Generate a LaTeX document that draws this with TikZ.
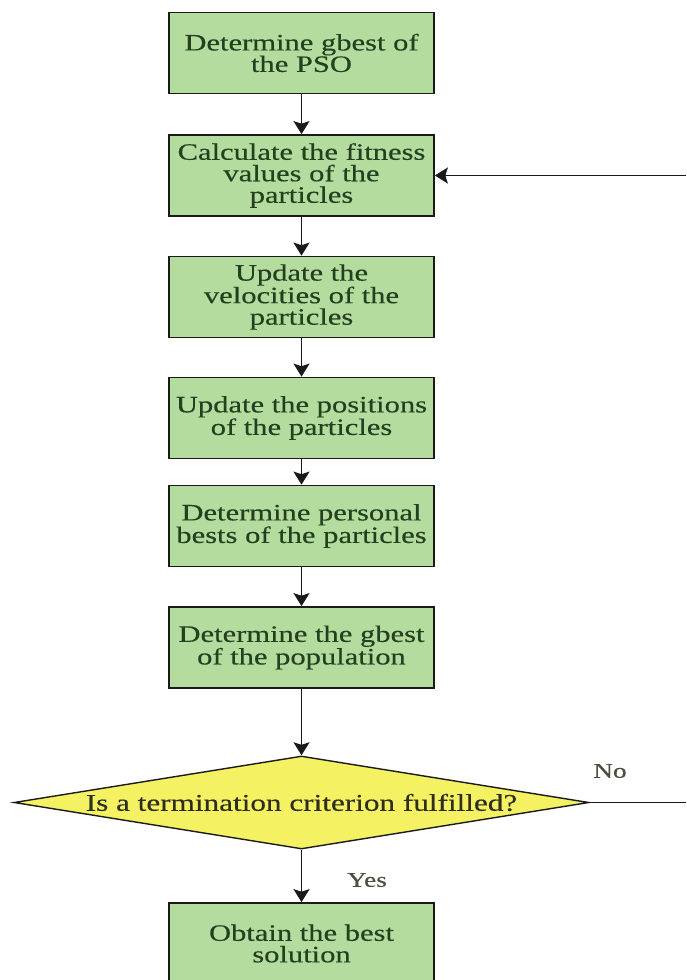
\documentclass[tikz,border=0pt]{standalone}
\usepackage{fontspec}
\setmainfont{Liberation Serif}[FakeStretch=1.3, FakeBold=0.3]
\usetikzlibrary{arrows.meta,shapes.geometric}

\definecolor{boxfill}{HTML}{B5DC9F}
\definecolor{boxtext}{HTML}{23401F}
\definecolor{decfill}{HTML}{F4F163}
\definecolor{dectext}{HTML}{2E2E1E}
\definecolor{edge}{HTML}{1A1A1A}

\tikzset{
  stepbox/.style={draw=edge, line width=1.7pt, fill=boxfill, text=boxtext,
    minimum width=265pt, minimum height=81pt, inner sep=0pt, align=center,
    font=\fontsize{23.5}{21.5}\selectfont},
  decision/.style={draw=edge, line width=1.4pt, fill=decfill, diamond,
    minimum width=575pt, minimum height=93pt, inner sep=0pt},
  dectxt/.style={text=dectext, inner sep=0pt, font=\fontsize{24}{24}\selectfont},
  branch/.style={text=dectext!85!white, inner sep=0pt, font=\fontsize{21}{21}\selectfont},
  flow/.style={draw=edge, line width=1.8pt,
    -{Stealth[length=13pt, width=16pt, inset=2.5pt]}},
  plain/.style={draw=edge, line width=1.4pt}
}

\begin{document}
\begin{tikzpicture}[x=1pt, y=-1pt]
  \useasboundingbox (0,0) rectangle (686,980);

  % process steps
  \node[stepbox] (gpso)  at (301.5, 53)    {Determine gbest of\\the PSO};
  \node[stepbox] (fit)   at (301.5, 175.5) {Calculate the fitness\\values of the\\particles};
  \node[stepbox] (vel)   at (301.5, 297)   {Update the\\velocities of the\\particles};
  \node[stepbox] (pos)   at (301.5, 418)   {Update the positions\\of the particles};
  \node[stepbox] (pbest) at (301.5, 526)   {Determine personal\\bests of the particles};
  \node[stepbox] (gbest) at (301.5, 647.5) {Determine the gbest\\of the population};

  % termination test
  \node[decision] (dec) at (301.5, 802.5) {};
  \node[dectxt] (dectext) at (dec.center) {Is a termination criterion fulfilled?};

  % final step
  \node[stepbox] (best)  at (301.5, 943.5) {Obtain the best\\solution};

  % main flow
  \draw[flow] (gpso)  -- (fit);
  \draw[flow] (fit)   -- (vel);
  \draw[flow] (vel)   -- (pos);
  \draw[flow] (pos)   -- (pbest);
  \draw[flow] (pbest) -- (gbest);
  \draw[flow] (gbest) -- (dec.north);
  \draw[flow] (dec.south) -- (best);

  % loop back to the fitness evaluation
  \coordinate (noend) at (686, 802.5);
  \coordinate (loopin) at (686, 175.5);
  \draw[plain] (dec.east) -- (noend);
  \draw[flow] (loopin) -- (fit.east);

  % branch labels
  \node[branch] (nolbl)  at (610, 771) {No};
  \node[branch] (yeslbl) at (367, 880) {Yes};
\end{tikzpicture}
\end{document}
